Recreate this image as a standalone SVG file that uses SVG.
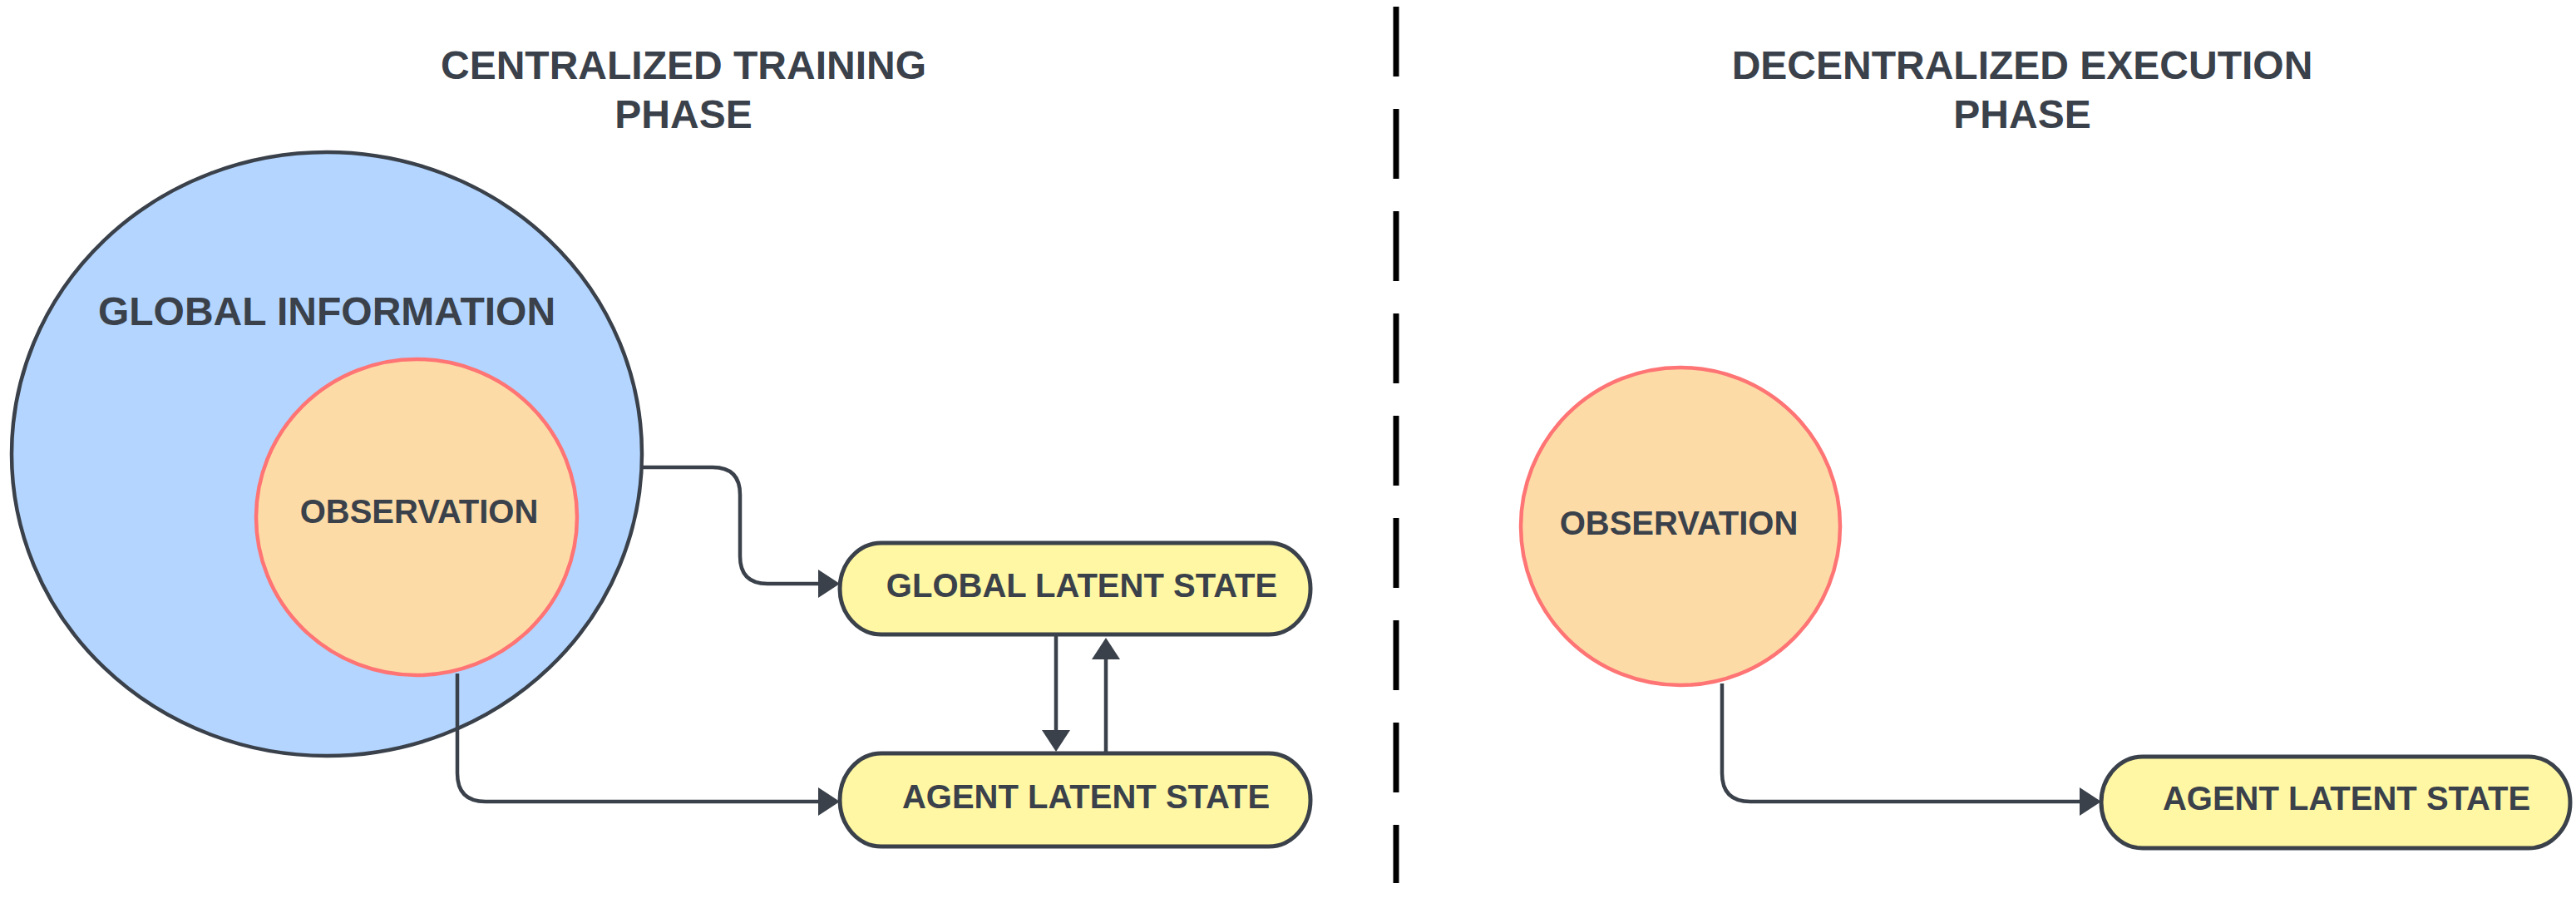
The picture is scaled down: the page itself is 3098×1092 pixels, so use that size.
<svg xmlns="http://www.w3.org/2000/svg" width="3098" height="1092" viewBox="0 0 3098 1092">
<style>
.t{font-family:"Liberation Sans",Arial,sans-serif;font-weight:bold;fill:#3a414a;text-anchor:middle}
.title{font-size:48px}
.big{font-size:48px}
.lbl{font-size:40px}
.conn{fill:none;stroke:#3a414a;stroke-width:4.5}
.obs{fill:#fddba6;stroke:#ff7474;stroke-width:4.5}
.box{fill:#fff7a3;stroke:#3a414a;stroke-width:5}
</style>
<defs>
<marker id="ah" markerUnits="userSpaceOnUse" markerWidth="28" markerHeight="36" refX="0" refY="17" orient="auto" viewBox="0 0 28 36">
<path d="M0,0 L26,17 L0,34 z" fill="#3a414a"/>
</marker>
</defs>
<rect width="3098" height="1092" fill="#ffffff"/>
<g id="titles">
<text class="t title" x="822" y="95">CENTRALIZED TRAINING</text>
<text class="t title" x="822" y="154">PHASE</text>
<text class="t title" x="2432" y="95">DECENTRALIZED EXECUTION</text>
<text class="t title" x="2432" y="154">PHASE</text>
</g>
<g id="divider">
<line x1="1679" y1="8" x2="1679" y2="1062" stroke="#000000" stroke-width="7" stroke-dasharray="84 39"/>
</g>
<g id="global-information">
<ellipse cx="393" cy="546" rx="379" ry="363" fill="#b3d5ff" stroke="#3a414a" stroke-width="4.5"/>
<text class="t big" x="393" y="391">GLOBAL INFORMATION</text>
</g>
<g id="observation-left">
<ellipse class="obs" cx="501" cy="622" rx="193" ry="190"/>
<text class="t lbl" x="504" y="629">OBSERVATION</text>
</g>
<g id="global-latent-state">
<rect class="box" x="1010" y="653" width="566" height="110" rx="50" ry="55"/>
<text class="t lbl" x="1301" y="718">GLOBAL LATENT STATE</text>
</g>
<g id="agent-latent-state-left">
<rect class="box" x="1010" y="906" width="566" height="112" rx="50" ry="56"/>
<text class="t lbl" x="1306" y="972">AGENT LATENT STATE</text>
</g>
<g id="observation-right">
<ellipse class="obs" cx="2021" cy="633" rx="192" ry="191"/>
<text class="t lbl" x="2019" y="643">OBSERVATION</text>
</g>
<g id="agent-latent-state-right">
<rect class="box" x="2527" y="910" width="564" height="110" rx="50" ry="55"/>
<text class="t lbl" x="2822" y="974">AGENT LATENT STATE</text>
</g>
<g id="connectors">
<path class="conn" d="M772 562 H857 Q890 562 890 595 V669 Q890 702 923 702 H984" marker-end="url(#ah)"/>
<path class="conn" d="M1270 763 V878" marker-end="url(#ah)"/>
<path class="conn" d="M1330 906 V793" marker-end="url(#ah)"/>
<path class="conn" d="M550 810 V930 Q550 964 584 964 H984" marker-end="url(#ah)"/>
<path class="conn" d="M2071 822 V930 Q2071 964 2105 964 H2501" marker-end="url(#ah)"/>
</g>
</svg>
